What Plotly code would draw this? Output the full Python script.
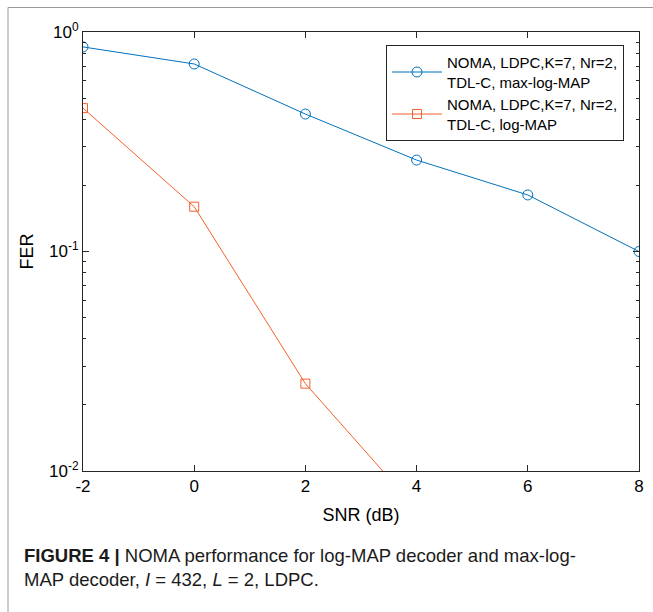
import plotly.graph_objects as go

snr = [-2, 0, 2, 4, 6, 8]
fer_maxlog = [0.855, 0.715, 0.423, 0.261, 0.181, 0.100]
snr_log = [-2, 0, 2, 4]
fer_log = [0.45, 0.160, 0.025, 0.0067]

name_maxlog = "NOMA, LDPC,K=7, Nr=2,<br>TDL-C, max-log-MAP"
name_log = "NOMA, LDPC,K=7, Nr=2,<br>TDL-C, log-MAP"

x_ticks = [-2, 0, 2, 4, 6, 8]
y_tickvals = [0.01, 0.1, 1]
y_ticktext = ["10<sup>-2</sup>", "10<sup>-1</sup>", "10<sup>0</sup>"]
y_minor = [m * d for d in (0.01, 0.1) for m in range(2, 10)]

W, H = 653, 612
L, R, T, B = 83, 639, 32, 471

def px(x):
    return (x - L) / (R - L)

def py(y):
    return (B - y) / (B - T)

BLUE = "#0072BD"
ORANGE = "#F6602A"
AX = "#262626"
FONT = "Liberation Sans, Arial, Helvetica, sans-serif"

fig = go.Figure()
fig.add_trace(go.Scatter(
    x=snr, y=fer_maxlog, mode="lines+markers", name=name_maxlog,
    line=dict(color=BLUE, width=1),
    marker=dict(symbol="circle-open", size=10, color=BLUE, line=dict(width=1)),
))
fig.add_trace(go.Scatter(
    x=snr_log, y=fer_log, mode="lines+markers", name=name_log,
    line=dict(color=ORANGE, width=1),
    marker=dict(symbol="square-open", size=9, color=ORANGE, line=dict(width=1)),
))
# helper trace for the minor-tick overlay axis
fig.add_trace(go.Scatter(x=[None], y=[None], yaxis="y2", showlegend=False,
                         hoverinfo="skip", mode="lines"))

fig.update_layout(
    width=W, height=H,
    margin=dict(l=L, r=W - R, t=T, b=H - B, pad=0),
    paper_bgcolor="white", plot_bgcolor="white",
    font=dict(family=FONT, color=AX, size=15),
    showlegend=True,
    legend=dict(
        x=px(386), y=py(45), xanchor="left", yanchor="top",
        bordercolor=AX, borderwidth=1, bgcolor="white",
        font=dict(size=15, color="#000000", family=FONT),
        itemwidth=50, tracegroupgap=0,
    ),
    xaxis=dict(
        range=[-2, 8], tickvals=x_ticks, ticktext=[str(v) for v in x_ticks],
        showgrid=False, zeroline=False, showline=True, linecolor=AX, linewidth=1,
        mirror="ticks", ticks="inside", ticklen=6, tickcolor=AX,
        tickfont=dict(size=17, color="#000000"), automargin=False,
        title=dict(text="SNR (dB)", font=dict(size=18, color="#000000"), standoff=12),
    ),
    yaxis=dict(
        type="log", range=[-2, 0], tickvals=y_tickvals, ticktext=y_ticktext,
        showgrid=False, zeroline=False, showline=True, linecolor=AX, linewidth=1,
        mirror="ticks", ticks="inside", ticklen=6, tickcolor=AX,
        tickfont=dict(size=17, color="#000000"), automargin=False,
        title=dict(text="FER", font=dict(size=18, color="#000000"), standoff=10),
    ),
    yaxis2=dict(
        type="log", range=[-2, 0], overlaying="y", side="left", anchor="x",
        tickvals=y_minor, showticklabels=False,
        showgrid=False, zeroline=False, showline=False,
        mirror="ticks", ticks="inside", ticklen=3, tickcolor=AX, automargin=False,
    ),
)

# outer figure frame (top and left)
fig.add_shape(type="line", xref="paper", yref="paper",
              x0=px(8), x1=px(660), y0=py(7.5), y1=py(7.5),
              line=dict(color="#9a9a9a", width=1))
fig.add_shape(type="line", xref="paper", yref="paper",
              x0=px(8), x1=px(8), y0=py(7.5), y1=py(620),
              line=dict(color="#9a9a9a", width=1))

fig.add_annotation(
    xref="paper", yref="paper", x=px(22), y=py(555), xanchor="left", yanchor="middle",
    showarrow=False, align="left",
    text="<b>FIGURE 4 |</b> NOMA performance for log-MAP decoder and max-log-",
    font=dict(size=18.5, color="#1a1a1a", family=FONT),
)
fig.add_annotation(
    xref="paper", yref="paper", x=px(22), y=py(579), xanchor="left", yanchor="middle",
    showarrow=False, align="left",
    text="MAP decoder, <i>I</i> = 432, <i>L</i> = 2, LDPC.",
    font=dict(size=18.5, color="#1a1a1a", family=FONT),
)

fig.write_html("out.html",
               config={"displayModeBar": False},
               post_script="document.body.style.margin='0px';document.body.style.padding='0px';")
